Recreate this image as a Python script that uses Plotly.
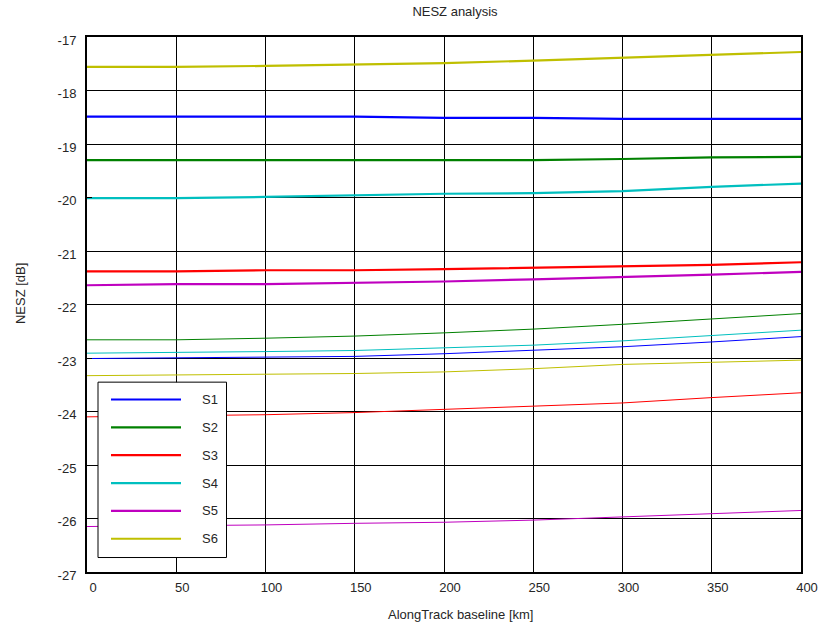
import plotly.graph_objects as go

baseline_km = [0, 50, 100, 150, 200, 250, 300, 350, 400]
series_names = ["S1", "S2", "S3", "S4", "S5", "S6"]

# thick curves
s1_thick = [-18.49, -18.49, -18.49, -18.49, -18.51, -18.51, -18.53, -18.53, -18.53]
s2_thick = [-19.30, -19.30, -19.30, -19.30, -19.30, -19.30, -19.28, -19.25, -19.24]
s3_thick = [-21.38, -21.38, -21.36, -21.36, -21.34, -21.31, -21.29, -21.26, -21.21]
s4_thick = [-20.01, -20.01, -19.99, -19.96, -19.93, -19.92, -19.88, -19.80, -19.74]
s5_thick = [-21.64, -21.62, -21.62, -21.60, -21.57, -21.53, -21.49, -21.44, -21.39]
s6_thick = [-17.56, -17.56, -17.54, -17.51, -17.49, -17.44, -17.39, -17.34, -17.28]

# thin curves
s1_thin = [-23.01, -23.00, -22.99, -22.97, -22.92, -22.86, -22.79, -22.70, -22.60]
s2_thin = [-22.66, -22.66, -22.63, -22.59, -22.53, -22.46, -22.37, -22.27, -22.17]
s3_thin = [-24.10, -24.08, -24.06, -24.02, -23.96, -23.91, -23.84, -23.74, -23.65]
s4_thin = [-22.91, -22.90, -22.88, -22.86, -22.81, -22.76, -22.68, -22.58, -22.48]
s5_thin = [-26.15, -26.14, -26.12, -26.09, -26.07, -26.03, -25.97, -25.91, -25.85]
s6_thin = [-23.33, -23.32, -23.31, -23.29, -23.26, -23.20, -23.12, -23.08, -23.04]

thick_values = [s1_thick, s2_thick, s3_thick, s4_thick, s5_thick, s6_thick]
thin_values = [s1_thin, s2_thin, s3_thin, s4_thin, s5_thin, s6_thin]
colors = ["#0000FF", "#008000", "#FF0000", "#00BFBF", "#BF00BF", "#BFBF00"]

x_ticks = [0, 50, 100, 150, 200, 250, 300, 350, 400]
y_ticks = [-27, -26, -25, -24, -23, -22, -21, -20, -19, -18, -17]

FONT = "Liberation Sans, Arial, sans-serif"
TXT = "#262626"

fig = go.Figure()
for name, vals, c in zip(series_names, thin_values, colors):
    fig.add_trace(go.Scatter(x=baseline_km, y=vals, mode="lines", name=name + " (thin)",
                             line=dict(color=c, width=1), showlegend=False))
for name, vals, c in zip(series_names, thick_values, colors):
    fig.add_trace(go.Scatter(x=baseline_km, y=vals, mode="lines", name=name,
                             line=dict(color=c, width=2.2), showlegend=False))

# MATLAB-style legend box
shapes = []
annotations = []
L = 714.0
H = 536.0
def px(xp):
    return (xp - 87) / L
def py(yp):
    return (572.5 - yp) / H
shapes.append(dict(type="rect", xref="x domain", yref="y domain",
                   x0=px(98), x1=px(226.5), y0=py(558), y1=py(382.3),
                   line=dict(color="black", width=1), fillcolor="white", layer="above"))
for i, (name, c) in enumerate(zip(series_names, colors)):
    yy = py(399.7 + 27.9 * i)
    shapes.append(dict(type="line", xref="x domain", yref="y domain",
                       x0=px(111), x1=px(181), y0=yy, y1=yy,
                       line=dict(color=c, width=2.2), layer="above"))
    annotations.append(dict(xref="x domain", yref="y domain", x=px(200), y=yy,
                            text=name, showarrow=False, xanchor="left", yanchor="middle",
                            font=dict(size=13, color=TXT, family=FONT)))

# axis titles
annotations.append(dict(xref="paper", yref="paper", x=px(460), y=py(615),
                        text="AlongTrack baseline [km]", showarrow=False,
                        xanchor="center", yanchor="middle",
                        font=dict(size=13, color=TXT, family=FONT)))
annotations.append(dict(xref="paper", yref="paper", x=px(20), y=py(294),
                        text="NESZ [dB]", showarrow=False, textangle=-90,
                        xanchor="center", yanchor="middle",
                        font=dict(size=13, color=TXT, family=FONT)))

fig.update_layout(
    width=825, height=624,
    margin=dict(l=87, r=24, t=36.5, b=51.5),
    paper_bgcolor="white", plot_bgcolor="white",
    font=dict(family=FONT, size=13, color=TXT),
    title=dict(text="NESZ analysis", xref="paper", x=px(455), xanchor="center",
               yref="container", y=1 - 11 / 624, yanchor="middle",
               font=dict(size=13, color=TXT)),
    shapes=shapes, annotations=annotations,
    showlegend=False,
)
fig.update_xaxes(
    range=[0, 400], tickvals=x_ticks, ticktext=[str(v) for v in x_ticks],
    showgrid=True, gridcolor="black", gridwidth=1, zeroline=False,
    showline=True, linecolor="black", linewidth=2, mirror="allticks",
    ticks="inside", ticklen=5, tickcolor="black",
    tickfont=dict(size=13), ticklabelstandoff=2, ticklabelshift=6,
    automargin=False,
)
fig.update_yaxes(
    range=[-27, -17], tickvals=y_ticks, ticktext=[str(v) for v in y_ticks],
    showgrid=True, gridcolor="black", gridwidth=1, zeroline=False,
    showline=True, linecolor="black", linewidth=2, mirror="allticks",
    ticks="inside", ticklen=5, tickcolor="black",
    tickfont=dict(size=13), ticklabelstandoff=6, ticklabelshift=3,
    automargin=False,
)

fig.write_html("out.html")
